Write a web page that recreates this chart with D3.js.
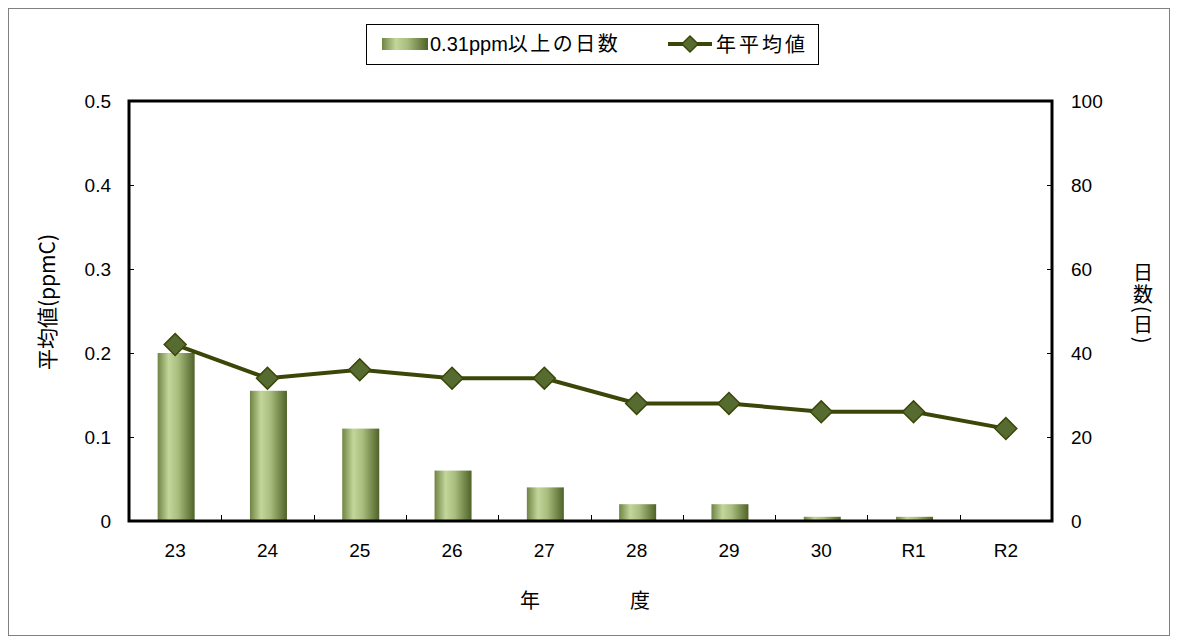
<!DOCTYPE html>
<html>
<head>
<meta charset="utf-8">
<script src="https://cdn.jsdelivr.net/npm/d3@7"></script>
<style>
  body { margin: 0; background: #fff; }
  svg text { font-family: "Liberation Sans", Arial, "Noto Sans CJK JP", sans-serif; fill: #000; }
  .jp { font-family: "Noto Sans CJK JP", sans-serif; }
</style>
</head>
<body>
<div id="chart"></div>
<script>
// fiscal years (Heisei 23..30, Reiwa 1..2)
const years = ["23", "24", "25", "26", "27", "28", "29", "30", "R1", "R2"];
// days with 0.31 ppmC or more (right axis)
const days = [40, 31, 22, 12, 8, 4, 4, 1, 1, 0];
// annual average ppmC (left axis)
const average = [0.21, 0.17, 0.18, 0.17, 0.17, 0.14, 0.14, 0.13, 0.13, 0.11];
const leftTicks = [0, 0.1, 0.2, 0.3, 0.4, 0.5];
const rightTicks = [0, 20, 40, 60, 80, 100];

const width = 1178, height = 644;
const margin = { top: 101, right: 126, bottom: 123, left: 129 };
const innerW = width - margin.left - margin.right;
const innerH = height - margin.top - margin.bottom;

const svg = d3.select("#chart").append("svg")
    .attr("width", width)
    .attr("height", height);

// outer frame
svg.append("rect")
    .attr("x", 8.5).attr("y", 8.5)
    .attr("width", 1161).attr("height", 627)
    .attr("fill", "none")
    .attr("stroke", "#808080")
    .attr("stroke-width", 1);

// bar gradient
const defs = svg.append("defs");
const grad = defs.append("linearGradient")
    .attr("id", "barGrad")
    .attr("x1", "0%").attr("x2", "100%").attr("y1", "0%").attr("y2", "0%");
grad.append("stop").attr("offset", "0%").attr("stop-color", "#6f8444");
grad.append("stop").attr("offset", "30%").attr("stop-color", "#c3d69b");
grad.append("stop").attr("offset", "55%").attr("stop-color", "#a9bd7e");
grad.append("stop").attr("offset", "100%").attr("stop-color", "#4f6228");

const g = svg.append("g")
    .attr("transform", `translate(${margin.left},${margin.top})`);

// scales
const x = d3.scaleBand().domain(years).range([0, innerW]);
const yLeft = d3.scaleLinear().domain([0, 0.5]).range([innerH, 0]);
const yRight = d3.scaleLinear().domain([0, 100]).range([innerH, 0]);

// bars
const barW = 37;
g.selectAll(".bar")
    .data(years.map((d, i) => ({ year: d, value: days[i] })))
    .enter().append("rect")
    .attr("class", "bar")
    .attr("x", d => x(d.year) + x.bandwidth() / 2 - barW / 2 + 1)
    .attr("y", d => yRight(d.value))
    .attr("width", barW)
    .attr("height", d => innerH - yRight(d.value))
    .attr("fill", "url(#barGrad)");

// axes (ticks inward)
const leftAxis = d3.axisRight(yLeft).tickValues(leftTicks).tickSize(5).tickFormat("");
const rightAxis = d3.axisLeft(yRight).tickValues(rightTicks).tickSize(5).tickFormat("");
g.append("g").call(leftAxis).call(a => a.select(".domain").remove());
g.append("g").attr("transform", `translate(${innerW},0)`).call(rightAxis)
    .call(a => a.select(".domain").remove());

// x ticks at category boundaries, pointing up
g.selectAll(".xtick")
    .data(years.slice(1))
    .enter().append("line")
    .attr("x1", d => Math.round(x(d)) + 0.5)
    .attr("x2", d => Math.round(x(d)) + 0.5)
    .attr("y1", innerH)
    .attr("y2", innerH - 6)
    .attr("stroke", "#000");

// plot frame
g.append("rect")
    .attr("x", 0).attr("y", 0)
    .attr("width", innerW).attr("height", innerH)
    .attr("fill", "none")
    .attr("stroke", "#000")
    .attr("stroke-width", 3);

// tick labels
g.selectAll(".lt")
    .data(leftTicks)
    .enter().append("text")
    .attr("x", -18)
    .attr("y", d => yLeft(d))
    .attr("dy", "0.35em")
    .attr("text-anchor", "end")
    .attr("font-size", 19)
    .text(d => d === 0 ? "0" : d3.format(".1f")(d));

g.selectAll(".rt")
    .data(rightTicks)
    .enter().append("text")
    .attr("x", innerW + 19)
    .attr("y", d => yRight(d))
    .attr("dy", "0.35em")
    .attr("text-anchor", "start")
    .attr("font-size", 19)
    .text(d => d);

g.selectAll(".xt")
    .data(years)
    .enter().append("text")
    .attr("x", d => x(d) + x.bandwidth() / 2)
    .attr("y", innerH + 36)
    .attr("text-anchor", "middle")
    .attr("font-size", 19)
    .text(d => d);

// line
const pts = years.map((d, i) => ({ year: d, value: average[i] }));
const line = d3.line()
    .x(d => x(d.year) + x.bandwidth() / 2)
    .y(d => yLeft(d.value));
g.append("path")
    .datum(pts)
    .attr("d", line)
    .attr("fill", "none")
    .attr("stroke", "#3b4708")
    .attr("stroke-width", 4);

const diamond = d3.symbol().type(d3.symbolSquare).size(240);
g.selectAll(".pt")
    .data(pts)
    .enter().append("path")
    .attr("d", diamond)
    .attr("transform", d => `translate(${x(d.year) + x.bandwidth() / 2},${yLeft(d.value)}) rotate(45)`)
    .attr("fill", "#556b2f")
    .attr("stroke", "#3b4708")
    .attr("stroke-width", 1.5);

// axis titles
svg.append("text")
    .attr("class", "jp")
    .attr("transform", "translate(55,302) rotate(-90)")
    .attr("text-anchor", "middle")
    .attr("font-size", 21)
    .text("平均値(ppmC)");

svg.append("text")
    .attr("class", "jp")
    .attr("x", 1143)
    .attr("y", 262)
    .attr("font-size", 20)
    .style("writing-mode", "vertical-rl")
    .style("letter-spacing", "2px")
    .text("日数(日)");

svg.append("text")
    .attr("class", "jp")
    .attr("x", 530).attr("y", 608)
    .attr("text-anchor", "middle")
    .attr("font-size", 20)
    .text("年");
svg.append("text")
    .attr("class", "jp")
    .attr("x", 640).attr("y", 608)
    .attr("text-anchor", "middle")
    .attr("font-size", 20)
    .text("度");

// legend
const legend = svg.append("g");
legend.append("rect")
    .attr("x", 366.5).attr("y", 24.5)
    .attr("width", 452).attr("height", 40)
    .attr("fill", "#fff")
    .attr("stroke", "#000")
    .attr("stroke-width", 1);
legend.append("rect")
    .attr("x", 382).attr("y", 38)
    .attr("width", 46).attr("height", 12)
    .attr("fill", "url(#barGrad)");
const lt1 = legend.append("text")
    .attr("x", 430).attr("y", 51)
    .attr("font-size", 20);
lt1.append("tspan").text("0.31ppm");
lt1.append("tspan")
    .attr("class", "jp")
    .style("letter-spacing", "2.5px")
    .text("以上の日数");
legend.append("line")
    .attr("x1", 668).attr("x2", 712)
    .attr("y1", 44).attr("y2", 44)
    .attr("stroke", "#3b4708")
    .attr("stroke-width", 4);
legend.append("path")
    .attr("d", d3.symbol().type(d3.symbolSquare).size(130))
    .attr("transform", "translate(690,44) rotate(45)")
    .attr("fill", "#556b2f")
    .attr("stroke", "#3b4708")
    .attr("stroke-width", 1.5);
legend.append("text")
    .attr("class", "jp")
    .attr("x", 716).attr("y", 52)
    .attr("font-size", 20)
    .style("letter-spacing", "3px")
    .text("年平均値");
</script>
</body>
</html>
